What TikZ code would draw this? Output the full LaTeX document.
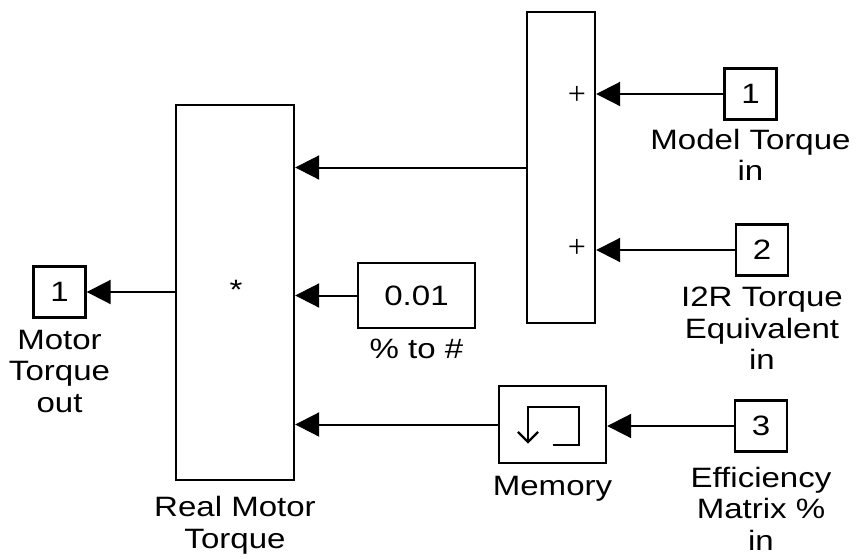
\documentclass[tikz,border=0pt]{standalone}
\usepackage{fontspec}
\setmainfont{Liberation Sans}[FakeStretch=1.18]
\newfontfamily\plusfont{Liberation Serif}
\usetikzlibrary{arrows.meta,positioning}

\begin{document}
\begin{tikzpicture}[
    x=0.5pt, y=-0.5pt,
    font=\fontsize{14}{15.8}\selectfont,
    block/.style={rectangle, draw, line width=1.2pt, inner sep=0pt},
    port/.style={block, minimum width=26pt, minimum height=25.5pt},
    lbl/.style={align=center, inner sep=0pt},
    plus/.style={inner sep=0pt, font=\plusfont\fontsize{16}{16}\selectfont},
    arrow/.style={-{Triangle[length=12pt, width=12pt]}, line width=1pt}
]
\useasboundingbox (0,0) rectangle (858,558);

% Blocks
\node[block, minimum width=59pt, minimum height=187.5pt] (prod) at (235, 292.5) {};
\node (star) at (236, 290) {*};
\node[block, minimum width=34pt, minimum height=155.5pt] (sum) at (561, 167.5) {};
\node[block, minimum width=58.5pt, minimum height=32.5pt] (const) at (416.5, 295.5) {0.01};
\node[block, minimum width=53.5pt, minimum height=38.5pt] (mem) at (552.5, 424.5) {};

% Ports
\node[port] (out1) at (59.5, 292) {1};
\node[port] (in1) at (750.5, 94) {1};
\node[port] (in2) at (762, 250) {2};
\node[port] (in3) at (761, 426) {3};

% Labels
\node[lbl, below=5.5pt of out1] (out1_lbl) {Motor\\Torque\\out};
\node[lbl, below=7.5pt of prod] (prod_lbl) {Real Motor\\Torque};
\node[lbl, below=4pt of in1] (in1_lbl) {Model Torque\\in};
\node[lbl, below=5pt of in2] (in2_lbl) {I2R Torque\\Equivalent\\in};
\node[lbl, below=4.5pt of const] (const_lbl) {\% to \#};
\node[lbl, below=6pt of mem] (mem_lbl) {Memory};
\node[lbl, below=7pt of in3] (in3_lbl) {Efficiency\\Matrix \%\\in};

% Sum signs
\node[plus] (plusA) at (577, 95) {+};
\node[plus] (plusB) at (577, 248) {+};

% Memory icon
\draw[line width=1.1pt, -{Straight Barb[length=5pt, width=10pt]}]
    ([shift={(0,20.5)}]mem.center) -- ([shift={(26.5,20.5)}]mem.center)
    -- ([shift={(26.5,-17.5)}]mem.center) -- ([shift={(-24.5,-17.5)}]mem.center)
    -- ([shift={(-24.5,19)}]mem.center);

% Connections
\draw[arrow] (in1.west) -- (sum.east |- in1.west);
\draw[arrow] (in2.west) -- (sum.east |- in2.west);
\draw[arrow] (in3.west) -- (mem.east |- in3.west);
\draw[arrow] (sum.west) -- (prod.east |- sum.west);
\draw[arrow] (const.west) -- (prod.east |- const.west);
\draw[arrow] (mem.west) -- (prod.east |- mem.west);
\draw[arrow] (prod.west |- out1.east) -- (out1.east);

\end{tikzpicture}
\end{document}
